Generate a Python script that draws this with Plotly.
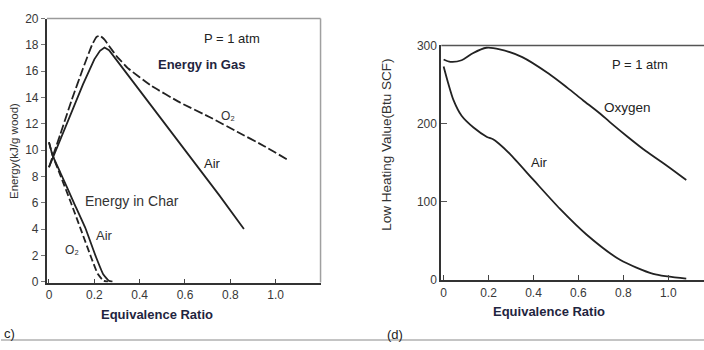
import plotly.graph_objects as go

# ---------- Panel (c): Energy vs Equivalence Ratio ----------
gas_air_x = [0, 0.05, 0.10, 0.15, 0.20, 0.225, 0.245, 0.265, 0.30, 0.45, 0.60, 0.75, 0.86]
gas_air_y = [8.7, 10.8, 13.0, 15.0, 16.9, 17.55, 17.8, 17.6, 16.8, 13.4, 10.0, 6.6, 4.0]

gas_o2_x = [0, 0.05, 0.10, 0.15, 0.19, 0.21, 0.225, 0.245, 0.27, 0.30, 0.35, 0.45, 0.58, 0.71, 0.83, 0.95, 1.05]
gas_o2_y = [8.7, 11.2, 13.8, 16.2, 18.0, 18.6, 18.7, 18.4, 17.8, 17.1, 16.2, 14.9, 13.6, 12.5, 11.4, 10.3, 9.3]

char_air_x = [0, 0.016, 0.05, 0.11, 0.16, 0.207, 0.24, 0.264, 0.28]
char_air_y = [10.6, 9.6, 8.3, 6.0, 4.1, 1.9, 0.55, 0.08, 0.0]

char_o2_x = [0, 0.016, 0.05, 0.097, 0.14, 0.185, 0.215, 0.24, 0.26]
char_o2_y = [10.6, 9.6, 8.1, 6.0, 4.0, 1.9, 0.6, 0.08, 0.0]

c_xticks = [0, 0.2, 0.4, 0.6, 0.8, 1.0]
c_xticklabels = ["0", "0.2", "0.4", "0.6", "0.8", "1.0"]
c_yticks = [0, 2, 4, 6, 8, 10, 12, 14, 16, 18, 20]

# ---------- Panel (d): Low Heating Value ----------
lhv_o2_x = [0, 0.03, 0.08, 0.13, 0.19, 0.25, 0.35, 0.467, 0.55, 0.62, 0.70, 0.74, 0.82, 0.90, 1.00, 1.08]
lhv_o2_y = [282, 279, 281, 290, 297, 295, 285, 264, 246, 230, 212, 202, 183, 165, 145, 128]

lhv_air_x = [0, 0.02, 0.044, 0.08, 0.133, 0.193, 0.22, 0.244, 0.296, 0.40, 0.518, 0.637, 0.785, 0.933, 1.08]
lhv_air_y = [273, 252, 230, 210, 195, 183, 180, 175, 161, 128, 91, 58, 26, 8, 2]

d_xticks = [0, 0.2, 0.4, 0.6, 0.8, 1.0]
d_xticklabels = ["0", "0.2", "0.4", "0.6", "0.8", "1.0"]
d_yticks = [0, 100, 200, 300]

W, H = 704, 350
FONT = "Arial, Liberation Sans, Helvetica, sans-serif"
LINE = "#222222"
TEXT = "#2a2a35"
TICK = "#383838"

def px(xp):
    return xp / W

def py(yp):
    return 1 - yp / H

fig = go.Figure()

lw = 1.8
fig.add_trace(go.Scatter(x=gas_air_x, y=gas_air_y, mode="lines",
                         line=dict(color=LINE, width=lw),
                         xaxis="x", yaxis="y", showlegend=False))
fig.add_trace(go.Scatter(x=gas_o2_x, y=gas_o2_y, mode="lines",
                         line=dict(color=LINE, width=lw, dash="9px,3px", shape="spline", smoothing=0.3),
                         xaxis="x", yaxis="y", showlegend=False))
fig.add_trace(go.Scatter(x=char_air_x, y=char_air_y, mode="lines",
                         line=dict(color=LINE, width=lw, shape="spline", smoothing=0.4),
                         xaxis="x", yaxis="y", showlegend=False))
fig.add_trace(go.Scatter(x=char_o2_x, y=char_o2_y, mode="lines",
                         line=dict(color=LINE, width=lw, dash="7px,3px", shape="spline", smoothing=0.4),
                         xaxis="x", yaxis="y", showlegend=False))

fig.add_trace(go.Scatter(x=lhv_o2_x, y=lhv_o2_y, mode="lines",
                         line=dict(color=LINE, width=lw, shape="spline", smoothing=0.7),
                         xaxis="x2", yaxis="y2", showlegend=False))
fig.add_trace(go.Scatter(x=lhv_air_x, y=lhv_air_y, mode="lines",
                         line=dict(color=LINE, width=lw, shape="spline", smoothing=0.7),
                         xaxis="x2", yaxis="y2", showlegend=False))

tickfont = dict(family=FONT, size=12, color=TICK)

fig.update_layout(
    width=W, height=H,
    margin=dict(l=0, r=0, t=0, b=0),
    paper_bgcolor="white", plot_bgcolor="white",
    xaxis=dict(domain=[px(46), px(320)], range=[-0.009, 1.198],
               tickvals=c_xticks, ticktext=c_xticklabels,
               ticks="inside", ticklen=4, tickcolor="#444", tickwidth=1,
               showgrid=False, zeroline=False,
               showline=True, linecolor="#333", linewidth=2,
               mirror=False, tickfont=tickfont, anchor="y"),
    yaxis=dict(domain=[py(287), py(12)], range=[-0.06, 20.0],
               tickvals=c_yticks, ticks="outside", ticklen=4, tickcolor="#777",
               showgrid=False, zeroline=False,
               showline=True, linecolor="#333", linewidth=2,
               tickfont=tickfont, anchor="x"),
    xaxis2=dict(domain=[px(441), 1.0], range=[-0.01, 1.159],
                tickvals=d_xticks, ticktext=d_xticklabels,
                ticks="inside", ticklen=5, tickcolor="#444", tickwidth=1,
                showgrid=False, zeroline=False,
                showline=True, linecolor="#333", linewidth=2,
                tickfont=tickfont, anchor="y2"),
    yaxis2=dict(domain=[py(284.5), py(40)], range=[0, 300],
                tickvals=d_yticks, ticks="inside", ticklen=6, tickcolor="#555",
                showgrid=False, zeroline=False,
                showline=True, linecolor="#333", linewidth=2,
                tickfont=tickfont, anchor="x2"),
)

# frame lines (top / right of left panel, top of right panel)
fig.add_shape(type="line", xref="paper", yref="paper", x0=px(46), x1=px(320), y0=py(12), y1=py(12),
              line=dict(color="#9a9a9a", width=1.5))
fig.add_shape(type="line", xref="paper", yref="paper", x0=px(320), x1=px(320), y0=py(12), y1=py(287),
              line=dict(color="#a0a0a0", width=1.5))
fig.add_shape(type="line", xref="paper", yref="paper", x0=px(441), x1=1.0, y0=py(40), y1=py(40),
              line=dict(color="#555555", width=1.5))
# bottom gray strip
fig.add_shape(type="line", xref="paper", yref="paper", x0=0, x1=1, y0=py(347), y1=py(347),
              line=dict(color="#c4c4c4", width=2))

def ann(text, x, y, xref, yref, size=11, bold=False, color=TEXT, angle=0):
    fig.add_annotation(text=f"<b>{text}</b>" if bold else text, x=x, y=y, xref=xref, yref=yref,
                       showarrow=False, textangle=angle,
                       font=dict(family=FONT, size=size, color=color),
                       xanchor="center", yanchor="middle")

# Panel (c) labels
ann("P = 1 atm", 0.806, 18.5, "x", "y", size=13, color="#222")
ann("Energy in Gas", 0.674, 16.5, "x", "y", size=13, bold=True, color="#1f2540")
ann("O₂", 0.79, 12.6, "x", "y", size=12, color="#333")
ann("Air", 0.72, 9.0, "x", "y", size=13, color="#222")
ann("Energy in Char", 0.368, 6.1, "x", "y", size=14, color="#333")
ann("Air", 0.245, 3.5, "x", "y", size=13, color="#333")
ann("O₂", 0.10, 2.4, "x", "y", size=12, color="#333")
ann("Equivalence Ratio", px(156), py(320), "paper", "paper", size=13, bold=True, color="#1f2540")
ann("Energy(kJ/g wood)", px(13), py(150), "paper", "paper", size=11.5, color="#333", angle=-90)
ann("c)", px(9), py(340), "paper", "paper", size=13, color="#222")

# Panel (d) labels
ann("P = 1 atm", 0.875, 275, "x2", "y2", size=13, color="#222")
ann("Oxygen", 0.82, 221, "x2", "y2", size=13.5, color="#222")
ann("Air", 0.425, 150, "x2", "y2", size=13, color="#222")
ann("Equivalence Ratio", px(549), py(317), "paper", "paper", size=13, bold=True, color="#1f2540")
ann("Low Heating Value(Btu SCF)", px(386), py(143), "paper", "paper", size=13.5, color="#333", angle=-90)
ann("(d)", px(395), py(341), "paper", "paper", size=13, color="#222")

fig.write_html("out.html")
